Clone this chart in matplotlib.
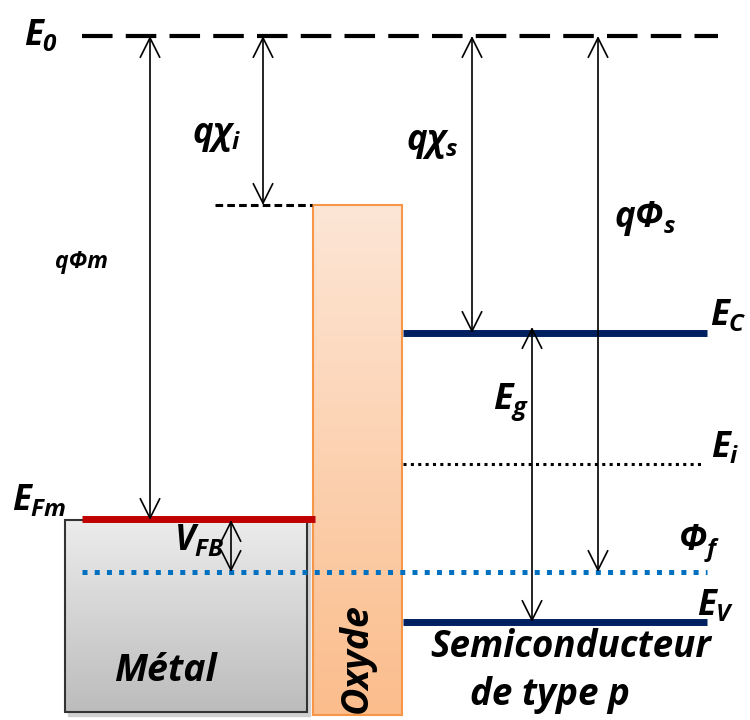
import numpy as np
import matplotlib
matplotlib.use("Agg")
import matplotlib.pyplot as plt
from matplotlib.colors import LinearSegmentedColormap
from matplotlib.patches import Rectangle, FancyArrowPatch

FONT = "Open Sans"
plt.rcParams['mathtext.fontset'] = 'custom'
plt.rcParams['mathtext.it'] = FONT + ':italic:bold'
plt.rcParams['mathtext.rm'] = FONT + ':italic:bold'
plt.rcParams['mathtext.bf'] = FONT + ':italic:bold'
plt.rcParams['lines.scale_dashes'] = False

# energy levels (pixel rows of the diagram)
E0_y = 36
EFm_y = 519
oxide_top = 205
level_names = ['$E_C$', '$E_i$', '$Φ_f$', '$E_V$']
level_y = [333, 464, 572, 622]

# arrows: x position, top end, bottom end
arrow_x = [150, 263, 231, 472, 532, 598]
arrow_top = [36, 36, 520, 36, 327, 36]
arrow_bottom = [520, 205, 572, 333, 622, 572]

fig = plt.figure(figsize=(7.5, 7.2), dpi=100)
ax = fig.add_axes([0, 0, 1, 1])


def gradient_box(x0, x1, y0, y1, top, bottom, edge, lw, z):
    cmap = LinearSegmentedColormap.from_list('g', [top, bottom])
    grad = np.linspace(0, 1, 256).reshape(-1, 1)
    ax.imshow(grad, cmap=cmap, extent=(x0, x1, y1, y0), origin='upper',
              aspect='auto', zorder=z, interpolation='bilinear')
    ax.add_patch(Rectangle((x0, y0), x1 - x0, y1 - y0, fill=False,
                           edgecolor=edge, lw=lw, zorder=z + 0.1))


# metal block with a soft shadow
ax.add_patch(Rectangle((68, 523), 242, 193, color='#d0d0d0', zorder=1))
gradient_box(65, 307, 520, 712, '#ececec', '#bcbcbc', '#333333', 1.5, 2)
# oxide
gradient_box(313, 402, oxide_top, 715, '#fde6d6', '#fbbd8c', '#f79646', 1.5, 2)

# vacuum level and oxide affinity level
ax.plot([82, 718], [E0_y, E0_y], color='black', lw=3, dashes=(22, 9.5), zorder=4)
ax.plot([215, 312], [oxide_top, oxide_top], color='black', lw=2.2,
        dashes=(5.5, 3), zorder=4)

# metal Fermi level
ax.plot([82, 315], [EFm_y, EFm_y], color='#c00000', lw=5, solid_capstyle='butt', zorder=5)

# semiconductor levels
ax.plot([403, 707], [level_y[0], level_y[0]], color='#002060', lw=5,
        solid_capstyle='butt', zorder=5)
ax.plot([403, 707], [level_y[3], level_y[3]], color='#002060', lw=5,
        solid_capstyle='butt', zorder=5)
ax.plot([403, 703], [level_y[1], level_y[1]], color='black', lw=2.2,
        dashes=(2.2, 3.1), zorder=5)
ax.plot([82, 707], [level_y[2], level_y[2]], color='#0070c0', lw=3.6,
        dashes=(3.6, 5.2), zorder=5)

for x, y0, y1 in zip(arrow_x, arrow_top, arrow_bottom):
    ax.add_patch(FancyArrowPatch((x, y0), (x, y1),
                                 arrowstyle='<->,head_length=14,head_width=7',
                                 mutation_scale=1, lw=1.2, color='black',
                                 shrinkA=0, shrinkB=0, zorder=6))

txt = dict(family=FONT, weight='bold', style='italic', color='black', zorder=7)
ax.text(24, 36, '$E_0$', fontsize=25, ha='left', va='center', **txt)
ax.text(55, 262, 'qΦm', fontsize=16.5, ha='left', va='center', **txt)
ax.text(192, 136, '$qχ_i$', fontsize=25, ha='left', va='center', **txt)
ax.text(406, 143, '$qχ_s$', fontsize=25, ha='left', va='center', **txt)
ax.text(614, 218, '$qΦ_s$', fontsize=25, ha='left', va='center', **txt)
ax.text(493, 402, '$E_g$', fontsize=26, ha='left', va='center', **txt)
ax.text(12, 501, '$E_{Fm}$', fontsize=25, ha='left', va='center', **txt)
ax.text(174, 541, '$V_{FB}$', fontsize=25, ha='left', va='center', **txt)
label_pos = [(710, 316), (711, 448), (678, 543), (697, 606)]
for name, (x, y) in zip(level_names, label_pos):
    ax.text(x, y, name, fontsize=25, ha='left', va='center', **txt)

ax.text(165, 671, 'Métal', fontsize=27, ha='center', va='center', **txt)
ax.text(357, 658, 'Oxyde', fontsize=27, ha='center', va='center', rotation=90, **txt)
ax.text(571, 647, 'Semiconducteur', fontsize=26.5, ha='center', va='center', **txt)
ax.text(550, 695, 'de type p', fontsize=26.5, ha='center', va='center', **txt)

ax.set_xlim(0, 750)
ax.set_ylim(720, 0)
ax.axis('off')
fig.savefig('out.png', dpi=100)
